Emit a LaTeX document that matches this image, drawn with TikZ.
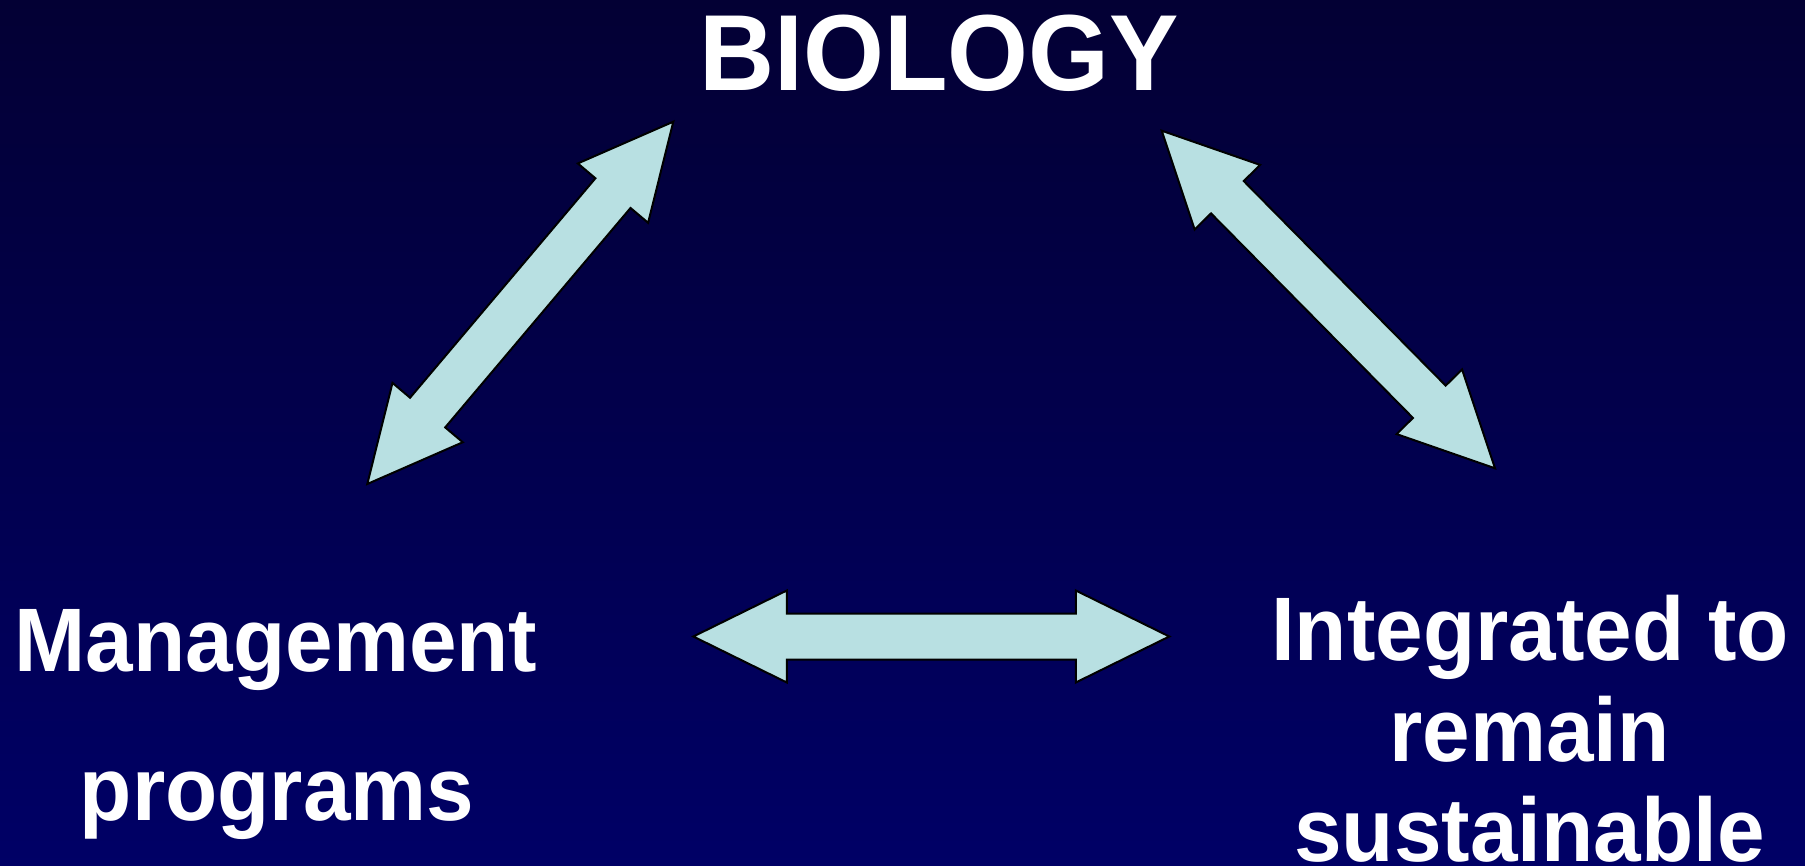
\documentclass[tikz,border=0pt]{standalone}
\usepackage{fontspec}
\usepackage{graphicx}
\setmainfont{Liberation Sans}
\usetikzlibrary{calc}
\definecolor{bgtop}{RGB}{3,0,52}
\definecolor{bgbot}{RGB}{0,0,102}
\definecolor{arrowfill}{RGB}{184,224,226}
\tikzset{
  bigarrow/.style={fill=arrowfill, draw=black, line width=1pt, line join=miter},
  titletext/.style={text=white, font=\fontsize{52}{62}\selectfont\bfseries, inner sep=0pt, anchor=base},
  bodytext/.style={text=white, font=\fontsize{42.75}{51}\selectfont\bfseries, inner sep=0pt, anchor=base}
}
\newcommand\vstretch[2]{\scalebox{1}[#1]{#2}}
% double block arrow between two named coordinates:
% head length 46.75pt, head half-width 23pt, shaft half-width 11.5pt
\newcommand\dblarrow[2]{%
  \filldraw[bigarrow]
    (#1)
    -- ($(#1)!46.75pt!(#2)!23pt!-90:(#2)$)
    -- ($(#1)!46.75pt!(#2)!11.5pt!-90:(#2)$)
    -- ($(#2)!46.75pt!(#1)!11.5pt!90:(#1)$)
    -- ($(#2)!46.75pt!(#1)!23pt!90:(#1)$)
    -- (#2)
    -- ($(#2)!46.75pt!(#1)!23pt!-90:(#1)$)
    -- ($(#2)!46.75pt!(#1)!11.5pt!-90:(#1)$)
    -- ($(#1)!46.75pt!(#2)!11.5pt!90:(#2)$)
    -- ($(#1)!46.75pt!(#2)!23pt!90:(#2)$)
    -- cycle;}
\begin{document}
\begin{tikzpicture}[x=0.5pt,y=-0.5pt]
\useasboundingbox (0,0) rectangle (1805,866);
\shade[top color=bgtop, bottom color=bgbot] (0,0) rectangle (1805,866);

\node[titletext] (bio) at (939,90.7) {\vstretch{1.04}{BIOLOGY}};
\node[bodytext] (man1) at (276,671.5) {\vstretch{1.055}{Management}};
\node[bodytext] (man2) at (277,820) {\vstretch{1.055}{programs}};
\node[bodytext] (int1) at (1530,660) {\vstretch{1.055}{Integrated to}};
\node[bodytext] (int2) at (1529.5,761.3) {\vstretch{1.055}{remain}};
\node[bodytext] (int3) at (1529.5,861) {\vstretch{1.055}{sustainable}};

\coordinate (lt) at (673.3,121.7);
\coordinate (lb) at (367.3,484);
\coordinate (rt) at (1161.7,130.7);
\coordinate (rb) at (1495,468.3);
\coordinate (hl) at (693.3,636.5);
\coordinate (hr) at (1169.3,636.5);

\dblarrow{lb}{lt}
\dblarrow{rt}{rb}
\dblarrow{hl}{hr}
\end{tikzpicture}
\end{document}
